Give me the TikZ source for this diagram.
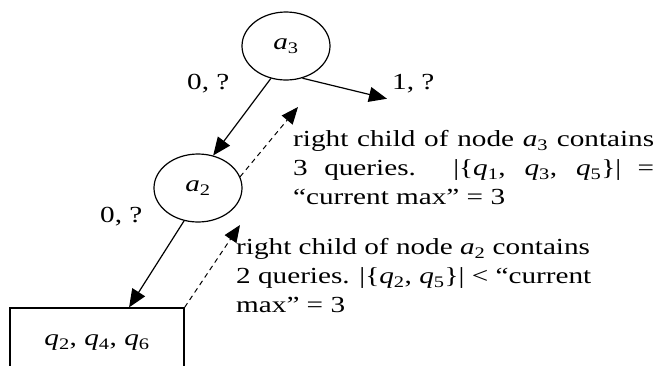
\documentclass[tikz,border=0pt]{standalone}
\usepackage{fontspec}
\setmainfont{Liberation Serif}[FakeStretch=1.27]
\usetikzlibrary{shapes.geometric,arrows.meta}

\newcommand{\av}[1]{\textit{a}\textsubscript{#1}}
\newcommand{\qv}[1]{\textit{q}\textsubscript{#1}}

\tikzset{
  treenode/.style={draw, ellipse, line width=1.2pt, minimum width=88pt, minimum height=68pt, inner sep=0pt},
  leafbox/.style={draw, rectangle, line width=1.2pt, minimum width=174pt, minimum height=70pt, inner sep=0pt},
  edge/.style={line width=1.2pt, -{Triangle[length=18pt,width=15pt]}},
  backedge/.style={line width=1pt, dash pattern=on 5pt off 4pt, -{Triangle[length=17pt,width=14pt]}},
  elabel/.style={anchor=base west, inner sep=0pt},
  note/.style={anchor=north west, inner sep=0pt, align=left, font=\fontsize{23}{29}\selectfont},
}

\begin{document}
\begin{tikzpicture}[x=1pt, y=-1pt, font=\fontsize{23}{29}\selectfont]
    \useasboundingbox (0,0) rectangle (657,365);
    \clip (0,0) rectangle (657,365);

    % Tree nodes
    \node[treenode] (a3) at (286,46) {\av{3}};
    \node[treenode] (a2) at (198,188) {\av{2}};
    \node[leafbox] (leaf) at (97,343) {\qv{2}, \qv{4}, \qv{6}};

    % Edge labels
    \node[elabel] (zeroA) at (187,89) {0, ?};
    \node[elabel] (oneA) at (392,89) {1, ?};
    \node[elabel] (zeroB) at (100,222) {0, ?};

    % Children
    \draw[edge] (a3.245) -- (a2.65);
    \draw[edge] (a3.297) -- ([xshift=-5pt,yshift=-6pt]oneA.south west);
    \draw[edge] (a2.247) -- (leaf.48);

    % Returning to parent
    \coordinate (upA) at (298,107);
    \coordinate (upB) at (240,225);
    \draw[backedge] (a2.15) -- (upA);
    \draw[backedge] (leaf.north east) -- (upB);

    % Notes
    \node[note] (noteA) at (293,130) {\makebox[361pt][s]{right child of node \av{3} contains}\\
      \makebox[361pt][s]{3 queries. |\{\qv{1}, \qv{3}, \qv{5}\}| =}\\
      “current max” = 3};
    \node[note] (noteB) at (236,238) {right child of node \av{2} contains\\
      2 queries. |\{\qv{2}, \qv{5}\}| < “current\\
      max” = 3};
\end{tikzpicture}
\end{document}
